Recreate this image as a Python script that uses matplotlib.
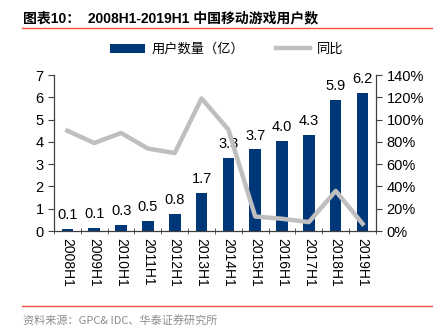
import matplotlib
matplotlib.use("Agg")
import matplotlib.pyplot as plt
import numpy as np

plt.rcParams['font.family'] = ['Liberation Sans', 'Noto Sans CJK SC', 'DejaVu Sans']

categories = ["2008H1", "2009H1", "2010H1", "2011H1", "2012H1", "2013H1",
              "2014H1", "2015H1", "2016H1", "2017H1", "2018H1", "2019H1"]
users = [0.1, 0.13, 0.27, 0.46, 0.78, 1.72, 3.28, 3.66, 4.04, 4.33, 5.9, 6.2]
user_labels = ["0.1", "0.1", "0.3", "0.5", "0.8", "1.7", "3.3", "3.7", "4.0", "4.3", "5.9", "6.2"]
yoy = [90, 79, 88, 74, 70, 119, 91, 13, 11, 8, 36, 6.5]

bar_color = "#003778"
line_color = "#BFBFBF"

fig = plt.figure(figsize=(4.33, 3.35), dpi=100)
ax = fig.add_axes([0.1247, 0.3104, 0.7436, 0.4656])
ax2 = ax.twinx()

x = np.arange(len(categories))
bars = ax.bar(x, users, width=0.43, color=bar_color, zorder=2, label="用户数量（亿）")
for xi, v, lab in zip(x, users, user_labels):
    ax.text(xi, v + 0.3, lab, ha='center', va='bottom', fontsize=10.5, color='black', zorder=5)

ax2.plot(x, yoy, color=line_color, lw=3.2, zorder=3, label="同比")

ax.set_ylim(0, 7)
ax.set_yticks(range(0, 8))
ax.set_xlim(-0.5, len(categories) - 0.5)
ax2.set_ylim(0, 140)
ax2.set_yticks(range(0, 141, 20))
ax2.set_yticklabels([f"{t}%" for t in range(0, 141, 20)])

ax.set_xticks(x)
ax.set_xticklabels(categories, rotation=270, fontsize=10)
ax.tick_params(axis='x', length=0, pad=5)
ax.set_xticks(np.arange(-0.5, len(categories), 1), minor=True)
ax.tick_params(axis='x', which='minor', length=5, direction='inout', color='#404040')
ax.tick_params(axis='y', labelsize=10.5, length=4, color='#404040')
ax2.tick_params(axis='y', labelsize=10.5, length=4, color='#404040')

for a in (ax, ax2):
    a.spines['top'].set_visible(False)
    for s in ('left', 'right', 'bottom'):
        a.spines[s].set_color('#404040')
        a.spines[s].set_linewidth(0.9)
ax.spines['right'].set_visible(False)
ax2.spines['left'].set_visible(False)
ax2.spines['bottom'].set_visible(False)

# legend
h1, l1 = ax.get_legend_handles_labels()
h2, l2 = ax2.get_legend_handles_labels()
fig.legend(h1 + h2, l1 + l2, loc='center left', bbox_to_anchor=(0.255, 0.852), ncol=2,
           frameon=False, handlelength=2.6, handleheight=0.7,
           columnspacing=2.4, handletextpad=0.5, borderpad=0, borderaxespad=0,
           prop={'family': ['Noto Sans CJK SC', 'DejaVu Sans'], 'size': 9.5})

# title & decoration
fig.text(0.052, 0.945, "图表10：  2008H1-2019H1 中国移动游戏用户数", fontsize=10, fontweight='bold',
         ha='left', va='center', family=['Liberation Sans', 'Noto Sans CJK SC', 'DejaVu Sans'])
fig.add_artist(plt.Line2D([0.05, 1.0], [0.916, 0.916], color='#F0533F', lw=1.0))
fig.add_artist(plt.Line2D([0.05, 1.0], [0.087, 0.087], color='#F0533F', lw=1.0))
fig.text(0.052, 0.045, "资料来源：GPC& IDC、华泰证券研究所", fontsize=8, color='#8C8C8C',
         ha='left', va='center', family=['Noto Sans CJK SC', 'DejaVu Sans'])

fig.savefig("out.png", dpi=100)
